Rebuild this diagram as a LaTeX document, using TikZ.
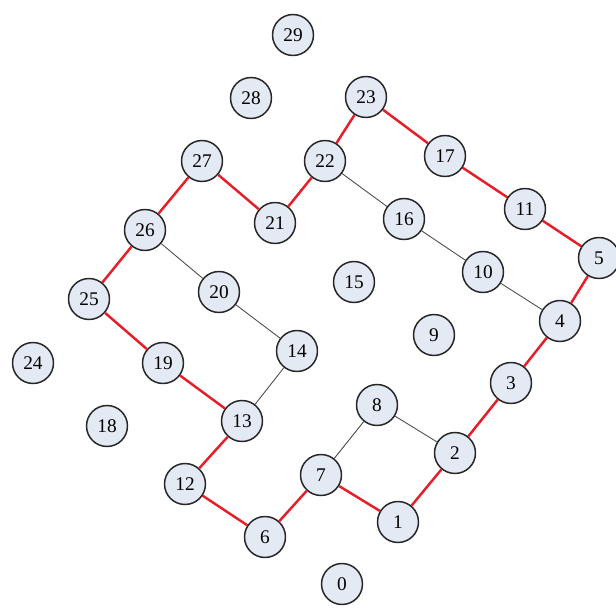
\documentclass[tikz,border=0pt]{standalone}
\usepackage{fontspec}
\setmainfont{Liberation Serif}
\usetikzlibrary{positioning}
\definecolor{nodefill}{RGB}{228,234,243}
\definecolor{pathred}{RGB}{230,30,40}

\begin{document}
\begin{tikzpicture}[
    x=0.02cm, y=-0.02cm,
    every node/.style={font=\fontsize{11pt}{13pt}\selectfont},
    vertex/.style={circle, draw=black!85, line width=0.85pt, fill=nodefill, minimum size=0.82cm, inner sep=0pt},
    path_edge/.style={line width=1.4pt, draw=pathred},
    tree_edge/.style={line width=0.5pt, draw=black!70}
]
\useasboundingbox (0,0) rectangle (616,608);

\node[vertex] (v0) at (342,584) {0};
\node[vertex] (v1) at (398,522) {1};
\node[vertex] (v2) at (455,453) {2};
\node[vertex] (v3) at (511,383) {3};
\node[vertex] (v4) at (560,321) {4};
\node[vertex] (v5) at (599,258) {5};
\node[vertex] (v6) at (265,537) {6};
\node[vertex] (v7) at (321,475) {7};
\node[vertex] (v8) at (377,405) {8};
\node[vertex] (v9) at (434,335) {9};
\node[vertex] (v10) at (483,272) {10};
\node[vertex] (v11) at (525,209) {11};
\node[vertex] (v12) at (185,484) {12};
\node[vertex] (v13) at (242,421) {13};
\node[vertex] (v14) at (297,351) {14};
\node[vertex] (v15) at (354,282) {15};
\node[vertex] (v16) at (404,219) {16};
\node[vertex] (v17) at (445,156) {17};
\node[vertex] (v18) at (107,426) {18};
\node[vertex] (v19) at (163,363) {19};
\node[vertex] (v20) at (219,292) {20};
\node[vertex] (v21) at (275,223) {21};
\node[vertex] (v22) at (325,161) {22};
\node[vertex] (v23) at (366,97) {23};
\node[vertex] (v24) at (33,363) {24};
\node[vertex] (v25) at (89,299) {25};
\node[vertex] (v26) at (145,230) {26};
\node[vertex] (v27) at (202,161) {27};
\node[vertex] (v28) at (251,98) {28};
\node[vertex] (v29) at (293,35) {29};

% cycle edges
\foreach \a/\b in {27/26,26/25,25/19,19/13,13/12,12/6,6/7,7/1,1/2,2/3,3/4,4/5,5/11,11/17,17/23,23/22,22/21,21/27} {
    \draw[path_edge] (v\a) -- (v\b);
}
% other edges
\foreach \a/\b in {26/20,20/14,14/13,22/16,16/10,10/4,8/7,8/2} {
    \draw[tree_edge] (v\a) -- (v\b);
}

\end{tikzpicture}
\end{document}
